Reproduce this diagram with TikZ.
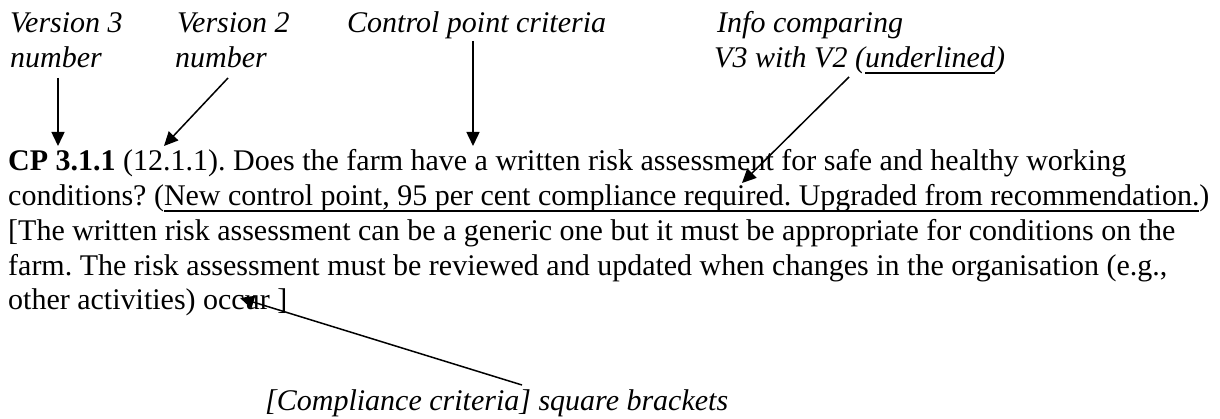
\documentclass[tikz,border=0pt]{standalone}
\usepackage{fontspec}
\setmainfont{Liberation Serif}
\usetikzlibrary{arrows.meta}
\frenchspacing
\newsavebox{\myulbox}
\newcommand{\myuline}[1]{\sbox{\myulbox}{#1}\rlap{\rule[-5.7pt]{\wd\myulbox}{1.4pt}}\usebox{\myulbox}}
\begin{document}
\begin{tikzpicture}[x=1pt,y=-1pt,
  txt/.style={anchor=base west,inner sep=0pt,font=\fontsize{30}{35}\selectfont},
  lbl/.style={anchor=base west,inner sep=0pt,font=\fontsize{30}{35}\selectfont\itshape},
  arr/.style={line width=1.5pt,-{Triangle[length=14pt,width=13pt]}}]
\useasboundingbox (0,0) rectangle (1220,419);
% labels
\node[lbl] (v3a) at (10,33) {Version 3};
\node[lbl] (v3b) at (10,68) {number};
\node[lbl] (v2a) at (177,33) {Version 2};
\node[lbl] (v2b) at (175,68) {number};
\node[lbl] (cpc) at (347,33) {Control point criteria};
\node[lbl] (infoa) at (717,33) {Info comparing};
\node[lbl] (infob) at (714,68) {V3 with V2 (\myuline{underlined})};
\node[lbl] (comp) at (265,410) {[Compliance criteria] square brackets};
% body text
\node[txt] (l1) at (8,171) {\textbf{CP 3.1.1} (12.1.1). Does the farm have a written risk assessment for safe and healthy working};
\node[txt] (l2) at (8,206) {conditions? (\myuline{New control point, 95 per cent compliance required. Upgraded from recommendation.})};
\node[txt] (l3) at (8,241) {[The written risk assessment can be a generic one but it must be appropriate for conditions on the};
\node[txt] (l4) at (8,276) {farm. The risk assessment must be reviewed and updated when changes in the organisation (e.g.,};
\node[txt] (l5) at (8,310) {other activities) occur ]};
% arrow ends
\coordinate (s1) at (58,78);   \coordinate (t1) at (58,146);
\coordinate (s2) at (228,78);  \coordinate (t2) at (164,146);
\coordinate (s3) at (473,41);  \coordinate (t3) at (473,146);
\coordinate (s4) at (849,77);  \coordinate (t4) at (742,183);
\coordinate (s5) at (522,385); \coordinate (t5) at (240,298);
\draw[arr] (s1) -- (t1);
\draw[arr] (s2) -- (t2);
\draw[arr] (s3) -- (t3);
\draw[arr] (s4) -- (t4);
\draw[arr] (s5) -- (t5);
\end{tikzpicture}
\end{document}
